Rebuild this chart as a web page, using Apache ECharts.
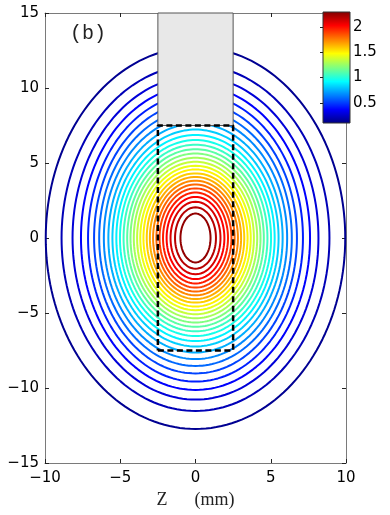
<!DOCTYPE html>
<html>
<head>
<meta charset="utf-8">
<script src="https://cdn.jsdelivr.net/npm/echarts@6/dist/echarts.min.js"></script>
<style>
  html, body { margin: 0; padding: 0; background: #fff; }
  #chart { width: 390px; height: 515px; }
</style>
</head>
<body>
<div id="chart"></div>
<script>
// contour levels, outermost -> innermost
const levels = [0.14, 0.22, 0.29, 0.37, 0.44, 0.52, 0.6, 0.67, 0.75, 0.82,
  0.9, 0.97, 1.05, 1.12, 1.2, 1.28, 1.35, 1.43, 1.5, 1.58,
  1.65, 1.73, 1.8, 1.88, 1.96, 2.03, 2.11, 2.18, 2.26];
// half width (Z, mm) of each contour
const semiZ = [9.95, 8.9, 8.17, 7.61, 7.14, 6.74, 6.4, 6.09, 5.79, 5.52,
  5.26, 5.02, 4.78, 4.54, 4.32, 4.1, 3.88, 3.67, 3.46, 3.24,
  3.03, 2.82, 2.6, 2.39, 2.16, 1.92, 1.66, 1.36, 1.0];
// half height (Y, mm) of each contour
const semiY = [12.73, 11.53, 10.77, 10.13, 9.57, 9.03, 8.53, 8.07, 7.63, 7.23,
  6.87, 6.53, 6.22, 5.92, 5.63, 5.35, 5.08, 4.82, 4.57, 4.31,
  4.07, 3.82, 3.57, 3.31, 3.03, 2.74, 2.42, 2.05, 1.63];

const colorRange = [0.1, 2.3];
const colorTicks = [0.5, 1, 1.5, 2];
const boxZ = [-2.5, 2.5];
const boxY = [7.5, 15];
const dashZ = [-2.5, 2.5];
const dashY = [-7.5, 7.5];

const jet = (v) => {
  const t = (v - colorRange[0]) / (colorRange[1] - colorRange[0]);
  const c = x => Math.round(255 * Math.max(0, Math.min(1, x)));
  return `rgb(${c(1.5 - Math.abs(4 * t - 3))},${c(1.5 - Math.abs(4 * t - 2))},${c(1.5 - Math.abs(4 * t - 1))})`;
};

const ellipse = (a, b) => {
  const pts = [];
  for (let i = 0; i <= 180; i++) {
    const th = i / 180 * Math.PI * 2;
    pts.push([a * Math.cos(th), b * Math.sin(th)]);
  }
  return pts;
};

const minus = v => String(v).replace('-', '\u2212');
const tickFont = {color: '#000', fontSize: 15, fontFamily: 'DejaVu Sans'};
const gray = '#7a7a7a';

const mainAxis = (extra) => Object.assign({
  type: 'value',
  gridIndex: 0,
  interval: 5,
  axisLine: {show: true, onZero: false, lineStyle: {color: gray, width: 1}},
  axisTick: {show: true, inside: true, length: 4, lineStyle: {color: '#222'}},
  splitLine: {show: false}
}, extra);

const contourSeries = levels.map((lv, i) => ({
  type: 'line',
  xAxisIndex: 0,
  yAxisIndex: 0,
  data: ellipse(semiZ[i], semiY[i]),
  showSymbol: false,
  silent: true,
  lineStyle: {color: jet(lv), width: 2},
  z: 2
}));

const stops = [];
for (let i = 0; i <= 64; i++) {
  const v = colorRange[0] + (colorRange[1] - colorRange[0]) * i / 64;
  stops.push({offset: i / 64, color: jet(v)});
}

const chart = echarts.init(document.getElementById('chart'));

chart.setOption({
  animation: false,
  backgroundColor: '#fff',
  grid: [
    {left: 45, top: 13, width: 301, height: 450, containLabel: false, outerBoundsMode: 'none'},
    {left: 323, top: 12, width: 27, height: 111, containLabel: false, outerBoundsMode: 'none'}
  ],
  xAxis: [
    mainAxis({
      min: -10, max: 10, position: 'bottom',
      axisLabel: Object.assign({margin: 8, formatter: minus}, tickFont),
      name: 'Z      (mm)', nameLocation: 'middle', nameGap: 26,
      nameTextStyle: {fontFamily: 'Liberation Serif', fontSize: 18, color: '#222'}
    }),
    mainAxis({min: -10, max: 10, position: 'top', axisLabel: {show: false}}),
    {type: 'value', gridIndex: 1, min: 0, max: 1, show: false}
  ],
  yAxis: [
    mainAxis({
      min: -15, max: 15, position: 'left',
      axisLabel: Object.assign({margin: 6, formatter: minus}, tickFont),
      name: 'Y    (mm)', nameLocation: 'middle', nameGap: 23,
      nameTextStyle: {fontFamily: 'Liberation Serif', fontSize: 18, color: '#222'}
    }),
    mainAxis({min: -15, max: 15, position: 'right', axisLabel: {show: false}}),
    {
      type: 'value', gridIndex: 1, min: colorRange[0], max: colorRange[1], position: 'right', z: 20,
      axisLine: {show: false},
      axisTick: {show: true, inside: true, length: 3, customValues: colorTicks, lineStyle: {color: '#222'}},
      axisLabel: Object.assign({margin: 3, customValues: colorTicks}, tickFont),
      splitLine: {show: false}
    }
  ],
  graphic: [{
    type: 'text', left: 70, top: 24,
    style: {text: '(b)', fontFamily: 'Liberation Mono', fontSize: 20, fill: '#222'}
  }],
  series: contourSeries.concat([
    {
      type: 'custom',
      xAxisIndex: 0, yAxisIndex: 0,
      silent: true, z: 5,
      data: [[0]],
      renderItem: (params, api) => {
        const p0 = api.coord([boxZ[0], boxY[1]]);
        const p1 = api.coord([boxZ[1], boxY[0]]);
        return {
          type: 'rect',
          shape: {x: p0[0], y: p0[1], width: p1[0] - p0[0], height: p1[1] - p0[1]},
          style: {fill: '#e8e8e8', stroke: '#555', lineWidth: 1}
        };
      }
    },
    {
      type: 'line',
      xAxisIndex: 0, yAxisIndex: 0,
      silent: true, z: 6, showSymbol: false,
      data: [[dashZ[0], dashY[0]], [dashZ[1], dashY[0]], [dashZ[1], dashY[1]],
        [dashZ[0], dashY[1]], [dashZ[0], dashY[0]]],
      lineStyle: {color: '#000', width: 2.5, type: [6, 3.5]}
    },
    {
      type: 'custom',
      xAxisIndex: 2, yAxisIndex: 2,
      silent: true, z: 10,
      data: [[0]],
      renderItem: (params, api) => {
        const p0 = api.coord([0, colorRange[1]]);
        const p1 = api.coord([1, colorRange[0]]);
        return {
          type: 'rect',
          shape: {x: p0[0], y: p0[1], width: p1[0] - p0[0], height: p1[1] - p0[1]},
          style: {
            fill: new echarts.graphic.LinearGradient(0, 1, 0, 0, stops),
            stroke: '#333', lineWidth: 1
          }
        };
      }
    }
  ])
});
</script>
</body>
</html>
